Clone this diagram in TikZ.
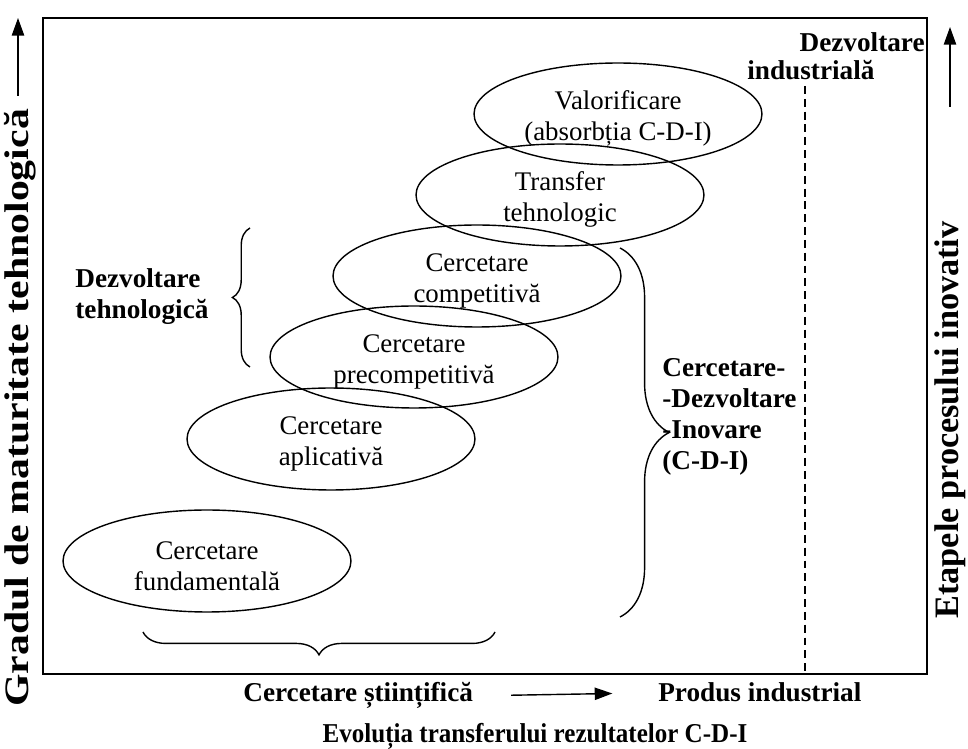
\documentclass[tikz,border=0pt]{standalone}
\usepackage{fontspec}
\setmainfont{Liberation Serif}
\usetikzlibrary{arrows.meta,positioning,shapes.geometric,decorations.pathreplacing}

\tikzset{
  stage/.style={ellipse,draw,line width=0.8pt,minimum width=5.76cm,minimum height=2.04cm,
    inner sep=0pt,align=center,font=\fontsize{15.3}{17.5}\selectfont},
  lbl/.style={inner sep=0pt,font=\fontsize{15.5}{17.6}\selectfont\bfseries},
  axislbl/.style={inner sep=0pt,rotate=90,font=\fontsize{19.5}{22}\selectfont\bfseries},
  curly/.style={decorate,decoration={brace,amplitude=#1},line width=0.8pt},
  axisarrow/.style={-{Triangle[length=10pt,width=7pt]},line width=0.8pt},
}
% first line of an ellipse text sits a little low
\newcommand{\low}{\rule{0pt}{16pt}}

\begin{document}
\begin{tikzpicture}[x=0.02cm,y=-0.02cm]
\useasboundingbox (0,0) rectangle (968,749);

% Frame
\node[draw,line width=1pt,minimum width=17.68cm,minimum height=13.12cm,inner sep=0pt] (frame) at (485,346) {};

% Stages of the innovation process
\node[stage] (fund) at (207,561) {\low Cercetare\\fundamentală};
\node[stage] (apl) at (331,439) {\low Cercetare\\aplicativă};
\node[stage] (prec) at (414,357) {\low Cercetare\\precompetitivă};
\node[stage] (comp) at (477,276) {\low Cercetare\\competitivă};
\node[stage] (trans) at (560,195) {\low Transfer\\tehnologic};
\node[stage] (valor) at (618,114) {\low Valorificare\\(absorbția C-D-I)};

% Group labels
\node[lbl,align=left,anchor=west] (dtehn) at (75,297) {Dezvoltare\\tehnologică};
\node[lbl,align=left,anchor=west] (cdi) at (662,417) {Cercetare-\\-Dezvoltare\\-Inovare\\(C-D-I)};
\node[lbl,anchor=base east] (dind1) at (925,52) {Dezvoltare};
\node[lbl,anchor=base west] (dind2) at (747,80) {industrială};

% Braces
\coordinate (bt1) at (250,367);
\coordinate (bt2) at (250,228);
\draw[curly=10pt] (bt1) -- (bt2);
\coordinate (bf1) at (495,632);
\coordinate (bf2) at (143,632);
\draw[curly=13pt] (bf1) -- (bf2);
\coordinate (bc1) at (620,248);
\coordinate (bc2) at (620,617);
\draw[curly=28pt] (bc1) -- (bc2);

% Limit of industrial development
\coordinate (dtop) at (805,86);
\draw[dashed,dash pattern=on 4.5pt off 2.8pt,line width=0.8pt] (dtop) -- (dtop |- frame.south);

% Axes
\node[axislbl] (gradul) at (20,408) {\scalebox{1.22}[1]{Gradul de maturitate tehnologică}};
\coordinate (lbot) at (18,96);
\coordinate (ltop) at (18,18);
\draw[axisarrow] (lbot) -- (ltop);

\node[axislbl] (etape) at (950,420) {Etapele procesului inovativ};
\coordinate (rbot) at (950,107);
\coordinate (rtop) at (950,27);
\draw[axisarrow] (rbot) -- (rtop);

% Bottom
\node[lbl,anchor=base west] (sci) at (243,702) {Cercetare științifică};
\node[lbl,anchor=base west] (prod) at (658,702) {Produs industrial};
\draw[axisarrow,shorten <=21.5pt,shorten >=26pt] (sci.east) -- (prod.west);
\node[lbl,anchor=base] (evol) at (535,743) {\scalebox{0.92}[1]{Evoluția transferului rezultatelor C-D-I}};
\end{tikzpicture}
\end{document}
